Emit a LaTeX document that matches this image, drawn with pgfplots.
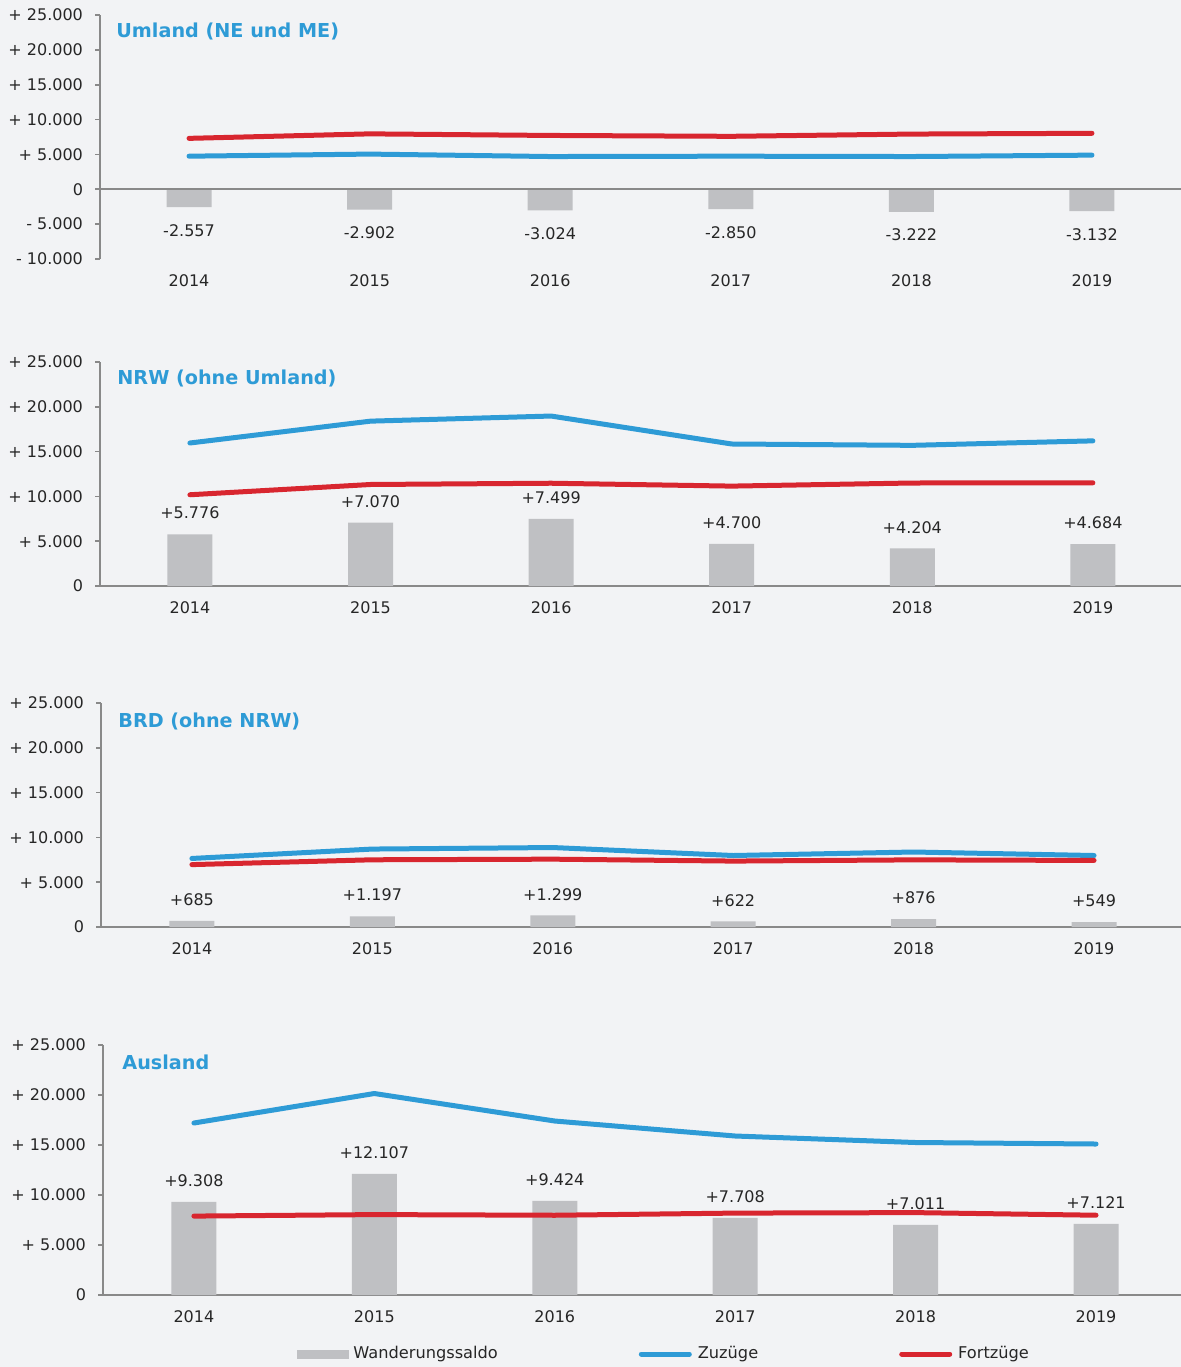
\documentclass[border=0pt]{standalone}
\usepackage{fontspec}
\setmainfont{DejaVu Sans}
\usepackage{pgfplots}
\pgfplotsset{compat=1.18}

\definecolor{bg}{HTML}{F2F3F5}
\definecolor{zuz}{HTML}{2E9BD6}
\definecolor{fort}{HTML}{D8262F}
\definecolor{barc}{HTML}{BFC0C3}
\definecolor{axgray}{HTML}{898989}
\definecolor{txt}{HTML}{262626}

\tikzset{ttl/.style={anchor=west, inner sep=0pt, text=zuz, font=\bfseries\fontsize{9.6}{11.5}\selectfont}}

\pgfplotsset{
  panel/.style={
    scale only axis, anchor=south west, clip=false,
    axis lines=left, axis line style={-, axgray, line width=1pt},
    xtick={0,1,2,3,4,5}, xticklabels={2014,2015,2016,2017,2018,2019},
    xtick style={draw=none},
    ytick style={axgray, line width=0.8pt},
    tick align=outside, major tick length=2.5pt,
    scaled y ticks=false,
    tick label style={font=\fontsize{8}{9.6}\selectfont, text=txt},
    xticklabel style={yshift=-2pt},
    yticklabel style={xshift=-2.5pt},
    /pgf/number format/assume math mode=true,
  },
  zline/.style={zuz, line width=2.5pt, line cap=round, line join=round},
  fline/.style={fort, line width=2.5pt, line cap=round, line join=round},
  saldo/.style={ybar, bar shift=0pt, bar width=22.5pt, fill=barc, draw=none,
    point meta=explicit symbolic, nodes near coords,
    every node near coord/.append style={font=\fontsize{8}{9.6}\selectfont, text=txt, anchor=south, yshift=4pt}},
}

\begin{document}
\begin{tikzpicture}
\useasboundingbox (0,0) rectangle (590.5pt,-683.5pt);
\fill[bg] (0,0) rectangle (590.5pt,-683.5pt);

% Umland
\begin{axis}[panel, at={(50pt,-129.5pt)}, width=540.5pt, height=122pt,
  xmin=-0.493, xmax=5.493, ymin=-10000, ymax=25000,
  ytick={-10000,-5000,0,5000,10000,15000,20000,25000},
  yticklabels={- 10.000,- 5.000,0,+ 5.000,+ 10.000,+ 15.000,+ 20.000,+ 25.000},
  x axis line style={draw=none}]
  \addplot[saldo, every node near coord/.append style={anchor=north, yshift=-9pt}] coordinates {
    (0,-2557) [-2.557] (1,-2902) [-2.902] (2,-3024) [-3.024]
    (3,-2850) [-2.850] (4,-3222) [-3.222] (5,-3132) [-3.132]};
  \draw[axgray, line width=1pt] (axis cs:-0.493,0) -- (axis cs:5.493,0);
  \addplot[zline] coordinates {(0,4750) (1,5050) (2,4700) (3,4750) (4,4700) (5,4900)};
  \addplot[fline] coordinates {(0,7307) (1,7952) (2,7724) (3,7600) (4,7922) (5,8032)};
  \node[ttl] at (rel axis cs:0,1) [xshift=8pt, yshift=-8pt] {Umland (NE und ME)};
\end{axis}

% NRW
\begin{axis}[panel, at={(50pt,-293pt)}, width=540.5pt, height=112pt,
  xmin=-0.498, xmax=5.488, ymin=0, ymax=25000,
  ytick={0,5000,10000,15000,20000,25000},
  yticklabels={0,+ 5.000,+ 10.000,+ 15.000,+ 20.000,+ 25.000}]
  \addplot[saldo] coordinates {
    (0,5776) [+5.776] (1,7070) [+7.070] (2,7499) [+7.499]
    (3,4700) [+4.700] (4,4204) [+4.204] (5,4684) [+4.684]};
  \addplot[zline] coordinates {(0,15960) (1,18400) (2,18970) (3,15850) (4,15700) (5,16200)};
  \addplot[fline] coordinates {(0,10184) (1,11330) (2,11471) (3,11150) (4,11496) (5,11516)};
  \node[ttl] at (rel axis cs:0,1) [xshift=8.5pt, yshift=-8pt] {NRW (ohne Umland)};
\end{axis}

% BRD
\begin{axis}[panel, at={(50.5pt,-463.5pt)}, width=540pt, height=112pt,
  xmin=-0.504, xmax=5.482, ymin=0, ymax=25000,
  ytick={0,5000,10000,15000,20000,25000},
  yticklabels={0,+ 5.000,+ 10.000,+ 15.000,+ 20.000,+ 25.000}]
  \addplot[saldo] coordinates {
    (0,685) [+685] (1,1197) [+1.197] (2,1299) [+1.299]
    (3,622) [+622] (4,876) [+876] (5,549) [+549]};
  \addplot[zline] coordinates {(0,7650) (1,8700) (2,8870) (3,7980) (4,8370) (5,7980)};
  \addplot[fline] coordinates {(0,6965) (1,7503) (2,7571) (3,7358) (4,7494) (5,7431)};
  \node[ttl] at (rel axis cs:0,1) [xshift=8.5pt, yshift=-9pt] {BRD (ohne NRW)};
\end{axis}

% Ausland
\begin{axis}[panel, at={(51.5pt,-647.5pt)}, width=539pt, height=125pt,
  xmin=-0.504, xmax=5.471, ymin=0, ymax=25000,
  ytick={0,5000,10000,15000,20000,25000},
  yticklabels={0,+ 5.000,+ 10.000,+ 15.000,+ 20.000,+ 25.000},
  legend columns=3,
  legend style={at={(rel axis cs:0.1800,-0.236)}, anchor=west, draw=none, fill=none,
    inner sep=0pt, font=\fontsize{8.1}{9.7}\selectfont, text=txt,
    nodes={inner sep=1pt},
    /tikz/every even column/.append style={column sep=69.5pt}}]
  \addplot[saldo, legend image code/.code={\fill[barc] (0pt,-2.25pt) rectangle (26pt,2.25pt); \path (27pt,0pt);}] coordinates {
    (0,9308) [+9.308] (1,12107) [+12.107] (2,9424) [+9.424]
    (3,7708) [+7.708] (4,7011) [+7.011] (5,7121) [+7.121]};
  \addlegendentry{Wanderungssaldo}
  \addplot[zline, legend image code/.code={\draw[zuz, line width=2.5pt, line cap=round] (1pt,0pt) -- (25pt,0pt); \path (27pt,0pt);}] coordinates {(0,17200) (1,20150) (2,17400) (3,15900) (4,15250) (5,15100)};
  \addlegendentry{Zuzüge}
  \addplot[fline, legend image code/.code={\draw[fort, line width=2.5pt, line cap=round] (1pt,0pt) -- (25pt,0pt); \path (27pt,0pt);}] coordinates {(0,7892) (1,8043) (2,7976) (3,8192) (4,8239) (5,7979)};
  \addlegendentry{Fortzüge}
  \node[ttl] at (rel axis cs:0,1) [xshift=9.5pt, yshift=-8.5pt] {Ausland};
\end{axis}
\end{tikzpicture}
\end{document}
